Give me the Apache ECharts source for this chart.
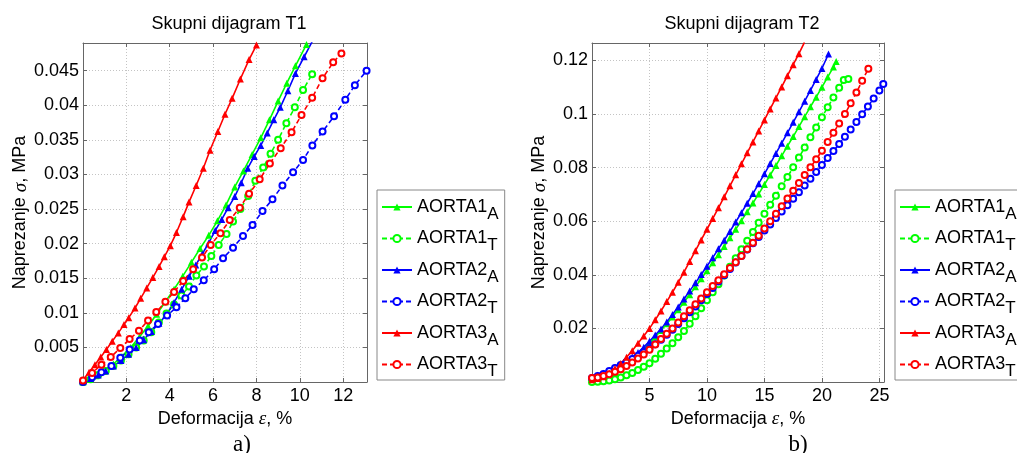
<!DOCTYPE html>
<html><head><meta charset="utf-8">
<script src="https://cdn.jsdelivr.net/npm/echarts@6/dist/echarts.min.js"></script>
<style>html,body{margin:0;padding:0;background:#fff}#c{width:1017px;height:453px}</style>
</head><body><div id="c"></div><script>
// ---------- DATA ----------
const seriesNames = ['AORTA1_A','AORTA1_T','AORTA2_A','AORTA2_T','AORTA3_A','AORTA3_T'];
const titles = ['Skupni dijagram T1','Skupni dijagram T2'];
const panelLabels = ['a)','b)'];
const xTicks1 = [2,4,6,8,10,12];
const yTicks1 = [0.005,0.01,0.015,0.02,0.025,0.03,0.035,0.04,0.045];
const xTicks2 = [5,10,15,20,25];
const yTicks2 = [0.02,0.04,0.06,0.08,0.1,0.12];

// T1 (x = deformation %, y = stress MPa)
const T1_AORTA1_A = [[0,0],[0.3,0.0004],[0.6,0.0009],[1.0,0.0017],[1.4,0.0026],[1.8,0.0037],[2.2,0.005],[2.6,0.0065],[3.0,0.0081],[3.4,0.0098],[3.8,0.0116],[4.2,0.0134],[4.6,0.0153],[5.0,0.0173],[5.4,0.0193],[5.8,0.0212],[6.2,0.0233],[6.6,0.0256],[7.0,0.0282],[7.4,0.0305],[7.8,0.0329],[8.2,0.0353],[8.6,0.0379],[9.0,0.0406],[9.4,0.0432],[9.8,0.0457],[10.31,0.0488]];
const T1_AORTA1_T = [[0,0],[0.35,0.0004],[0.7,0.001],[1.05,0.0016],[1.4,0.0023],[1.75,0.0031],[2.1,0.004],[2.45,0.005],[2.8,0.006],[3.15,0.0072],[3.5,0.0086],[3.85,0.0099],[4.2,0.0112],[4.54,0.0125],[4.89,0.0138],[5.23,0.0154],[5.58,0.0167],[5.92,0.0182],[6.26,0.0198],[6.62,0.0214],[6.92,0.0232],[7.26,0.025],[7.62,0.0269],[7.95,0.0291],[8.31,0.031],[8.65,0.033],[9.0,0.035],[9.38,0.0374],[9.77,0.0397],[10.15,0.0422],[10.57,0.0445]];
const T1_AORTA2_A = [[0,0.0001],[0.35,0.0005],[0.7,0.001],[1.05,0.0016],[1.4,0.0023],[1.75,0.0031],[2.1,0.004],[2.45,0.005],[2.8,0.0061],[3.15,0.0073],[3.5,0.0085],[3.85,0.0097],[4.2,0.0115],[4.55,0.0134],[4.9,0.0153],[5.2,0.0169],[5.5,0.0185],[5.8,0.0201],[6.1,0.0219],[6.4,0.0235],[6.7,0.0252],[7.0,0.0268],[7.3,0.0288],[7.6,0.0309],[7.9,0.0326],[8.2,0.0342],[8.5,0.036],[8.8,0.0379],[9.1,0.0397],[9.45,0.0421],[9.8,0.0446],[10.2,0.047],[10.57,0.0492]];
const T1_AORTA2_T = [[0,0],[0.42,0.0007],[0.85,0.0014],[1.31,0.0023],[1.72,0.0035],[2.15,0.0047],[2.62,0.006],[3.03,0.0072],[3.46,0.0084],[3.88,0.0096],[4.31,0.0108],[4.72,0.0121],[5.11,0.0134],[5.57,0.0147],[6.05,0.0163],[6.46,0.0179],[6.92,0.0194],[7.38,0.0211],[7.82,0.0227],[8.28,0.0247],[8.74,0.0264],[9.2,0.0284],[9.69,0.0303],[10.15,0.0321],[10.58,0.0342],[11.05,0.0362],[11.58,0.0384],[12.1,0.0408],[12.54,0.0429],[13.08,0.045]];
const T1_AORTA3_A = [[0,0.0003],[0.28,0.0014],[0.55,0.0025],[0.82,0.0036],[1.08,0.0047],[1.35,0.0059],[1.63,0.0071],[1.89,0.0083],[2.11,0.0093],[2.4,0.0107],[2.66,0.0121],[2.94,0.0136],[3.22,0.0151],[3.51,0.0167],[3.75,0.0181],[4.03,0.0197],[4.31,0.0216],[4.62,0.0239],[4.89,0.026],[5.22,0.0284],[5.55,0.0309],[5.86,0.0335],[6.22,0.0362],[6.55,0.0387],[6.88,0.041],[7.26,0.0438],[7.66,0.0466],[8.0,0.0487]];
const T1_AORTA3_T = [[0,0.0002],[0.42,0.0013],[0.85,0.0025],[1.28,0.0036],[1.72,0.0049],[2.15,0.0062],[2.58,0.0074],[3.0,0.0089],[3.38,0.0101],[3.8,0.0116],[4.2,0.013],[4.62,0.0146],[5.08,0.0163],[5.49,0.018],[5.89,0.0198],[6.34,0.0215],[6.77,0.0234],[7.23,0.0252],[7.66,0.0272],[8.15,0.0293],[8.62,0.0316],[9.12,0.0338],[9.62,0.0361],[10.08,0.0386],[10.57,0.0411],[11.05,0.0439],[11.54,0.0462],[11.92,0.0475]];

// T2
const T2_AORTA1_A = [[0,0.0002],[0.5,0.0006],[1,0.0012],[1.5,0.0022],[2,0.0035],[2.5,0.0049],[3,0.0065],[3.5,0.0083],[4,0.0102],[4.5,0.0123],[5,0.0145],[5.5,0.0168],[6,0.0192],[6.5,0.0217],[7,0.0243],[7.5,0.027],[8,0.0298],[8.5,0.0326],[9,0.0355],[9.5,0.0385],[10,0.0415],[10.5,0.0445],[11,0.0475],[11.5,0.0506],[12,0.0538],[12.5,0.057],[13,0.0602],[13.5,0.0635],[14,0.0668],[14.5,0.0702],[15,0.0737],[15.5,0.0772],[16,0.0808],[16.5,0.0844],[17,0.088],[17.5,0.0916],[18,0.0953],[18.5,0.099],[19,0.1027],[19.5,0.1063],[20,0.11],[20.5,0.1138],[21,0.1175],[21.24,0.1196]];
const T2_AORTA1_T = [[0,0],[0.5,0.0001],[1,0.0003],[1.5,0.0006],[2,0.001],[2.5,0.0017],[3,0.0025],[3.5,0.0034],[4,0.0045],[4.5,0.0057],[5,0.007],[5.5,0.0087],[6,0.0105],[6.5,0.0125],[7,0.0145],[7.5,0.0167],[8,0.019],[8.5,0.0217],[9,0.0245],[9.5,0.0275],[10,0.0305],[10.5,0.0335],[11,0.0365],[11.5,0.0397],[12,0.043],[12.5,0.0462],[13,0.0495],[13.5,0.0527],[14,0.056],[14.5,0.0594],[15,0.0628],[15.5,0.0661],[16,0.0695],[16.5,0.073],[17,0.0765],[17.5,0.0801],[18,0.0838],[18.5,0.0875],[19,0.0913],[19.5,0.095],[20,0.0988],[20.5,0.1025],[21,0.1062],[21.5,0.1098],[21.9,0.1127],[22.3,0.1131]];
const T2_AORTA2_A = [[0,0.0017],[0.5,0.0025],[1,0.0033],[1.5,0.0042],[2,0.0052],[2.5,0.0064],[3,0.0078],[3.5,0.0093],[4,0.011],[4.5,0.013],[5,0.0152],[5.5,0.0175],[6,0.0198],[6.5,0.0224],[7,0.0252],[7.5,0.028],[8,0.031],[8.5,0.034],[9,0.037],[9.5,0.0401],[10,0.0432],[10.5,0.0464],[11,0.0497],[11.5,0.0529],[12,0.0562],[12.5,0.0597],[13,0.0632],[13.5,0.0667],[14,0.0703],[14.5,0.074],[15,0.0777],[15.5,0.0815],[16,0.0853],[16.5,0.0891],[17,0.093],[17.5,0.0969],[18,0.1008],[18.5,0.1048],[19,0.1088],[19.5,0.1129],[20,0.117],[20.57,0.1224]];
const T2_AORTA2_T = [[0,0.0015],[0.5,0.0022],[1,0.003],[1.5,0.0041],[2,0.0052],[2.5,0.0063],[3,0.0075],[3.5,0.0086],[4,0.0098],[4.5,0.0111],[5,0.0125],[5.5,0.0141],[6,0.0158],[6.5,0.0176],[7,0.0195],[7.5,0.0216],[8,0.0238],[8.5,0.026],[9,0.0282],[9.5,0.0305],[10,0.0328],[10.5,0.0351],[11,0.0375],[11.5,0.0398],[12,0.0422],[12.5,0.0446],[13,0.047],[13.5,0.0494],[14,0.0518],[14.5,0.0541],[15,0.0565],[15.5,0.0588],[16,0.0612],[16.5,0.0636],[17,0.066],[17.5,0.0684],[18,0.0708],[18.5,0.0733],[19,0.0758],[19.5,0.0784],[20,0.081],[20.5,0.0836],[21,0.0862],[21.5,0.0888],[22,0.0915],[22.5,0.0942],[23,0.097],[23.5,0.0999],[24,0.1028],[24.5,0.1058],[25,0.1088],[25.34,0.1112]];
const T2_AORTA3_A = [[0,0.0008],[0.5,0.0013],[1,0.002],[1.5,0.0033],[2,0.005],[2.5,0.0069],[3,0.0092],[3.5,0.0117],[4,0.0145],[4.5,0.0172],[5,0.02],[5.5,0.0232],[6,0.0265],[6.5,0.03],[7,0.0335],[7.5,0.0372],[8,0.041],[8.5,0.045],[9,0.049],[9.5,0.053],[10,0.057],[10.5,0.061],[11,0.065],[11.5,0.0691],[12,0.0732],[12.5,0.0773],[13,0.0814],[13.5,0.0855],[14,0.0896],[14.5,0.0937],[15,0.0978],[15.5,0.1019],[16,0.106],[16.5,0.1101],[17,0.1143],[17.5,0.1184],[18,0.1225],[18.48,0.1267]];
const T2_AORTA3_T = [[0,0.0015],[0.5,0.0017],[1,0.0022],[1.5,0.0029],[2,0.0038],[2.5,0.0048],[3,0.006],[3.5,0.0073],[4,0.0088],[4.5,0.0103],[5,0.012],[5.5,0.014],[6,0.016],[6.5,0.018],[7,0.02],[7.5,0.0222],[8,0.0245],[8.5,0.0268],[9,0.029],[9.5,0.0312],[10,0.0335],[10.5,0.0358],[11,0.038],[11.5,0.0402],[12,0.0425],[12.5,0.0447],[13,0.047],[13.5,0.0495],[14,0.052],[14.5,0.0546],[15,0.0573],[15.5,0.06],[16,0.0628],[16.5,0.0656],[17,0.0685],[17.5,0.0714],[18,0.0743],[18.5,0.0772],[19,0.0801],[19.5,0.0831],[20,0.0863],[20.5,0.0896],[21,0.093],[21.5,0.0965],[22,0.1],[22.5,0.104],[23,0.108],[23.5,0.1124],[24.04,0.1169]];

const T1_DATA = [T1_AORTA1_A,T1_AORTA1_T,T1_AORTA2_A,T1_AORTA2_T,T1_AORTA3_A,T1_AORTA3_T];
const T2_DATA = [T2_AORTA1_A,T2_AORTA1_T,T2_AORTA2_A,T2_AORTA2_T,T2_AORTA3_A,T2_AORTA3_T];

// ---------- STYLE ----------
const FONT = '"Liberation Sans", Arial, sans-serif';
const SERIF = '"Liberation Serif", "Times New Roman", serif';
const COLORS = ['#00ff00','#00ff00','#0000ff','#0000ff','#ff0000','#ff0000'];
const isTest = n => n.endsWith('_T');

const chart = echarts.init(document.getElementById('c'), null, {renderer:'canvas'});

function fmt(ticks){
  return function(v){
    for (const t of ticks){ if (Math.abs(v - t) < 1e-9) return String(t); }
    return '';
  };
}
const AXCOL = '#666';
function mainX(grid, max, interval, ticks){
  return {gridIndex:grid, type:'value', min:0, max:max, interval:interval, position:'bottom',
    axisLine:{show:true, onZero:false, lineStyle:{color:AXCOL, width:1}},
    axisTick:{show:true, inside:true, length:4, lineStyle:{color:AXCOL}},
    axisLabel:{formatter:fmt(ticks), color:'#000', fontSize:18, fontFamily:FONT, margin:5, showMaxLabel:true},
    splitLine:{show:true, lineStyle:{color:'#c4c4c4', type:[1,2], width:1}},
    name:'Deformacija {i|ε}, %', nameLocation:'middle', nameGap:23,
    nameTextStyle:{fontSize:18, fontFamily:FONT, color:'#000', rich:{i:{fontFamily:SERIF, fontStyle:'italic', fontSize:19, color:'#000'}}}
  };
}
function mirrorX(grid, max, interval){
  return {gridIndex:grid, type:'value', min:0, max:max, interval:interval, position:'top',
    axisLine:{show:true, onZero:false, lineStyle:{color:AXCOL, width:1}},
    axisTick:{show:true, inside:true, length:4, lineStyle:{color:AXCOL}},
    axisLabel:{show:false}, splitLine:{show:false}};
}
function mainY(grid, max, interval, ticks, gap){
  return {gridIndex:grid, type:'value', min:0, max:max, interval:interval, position:'left',
    axisLine:{show:true, onZero:false, lineStyle:{color:AXCOL, width:1}},
    axisTick:{show:true, inside:true, length:4, lineStyle:{color:AXCOL}},
    axisLabel:{formatter:fmt(ticks), color:'#000', fontSize:18, fontFamily:FONT, margin:4},
    splitLine:{show:true, lineStyle:{color:'#c4c4c4', type:[1,2], width:1}},
    name:'Naprezanje {i|σ}, MPa', nameLocation:'middle', nameGap:gap,
    nameTextStyle:{fontSize:18, fontFamily:FONT, color:'#000', rich:{i:{fontFamily:SERIF, fontStyle:'italic', fontSize:19, color:'#000'}}}
  };
}
function mirrorY(grid, max, interval){
  return {gridIndex:grid, type:'value', min:0, max:max, interval:interval, position:'right',
    axisLine:{show:true, onZero:false, lineStyle:{color:AXCOL, width:1}},
    axisTick:{show:true, inside:true, length:4, lineStyle:{color:AXCOL}},
    axisLabel:{show:false}, splitLine:{show:false}};
}

function makeSeries(dataSets, xIdx, yIdx){
  return seriesNames.map((n,i)=>({
    name:n, type:'line', xAxisIndex:xIdx, yAxisIndex:yIdx, data:dataSets[i],
    symbol: isTest(n) ? 'emptyCircle' : 'triangle',
    symbolSize: isTest(n) ? 6 : 7,
    showAllSymbol:true, smooth:false, animation:false,
    lineStyle:{color:COLORS[i], width:1.6, type: isTest(n) ? [5,3] : 'solid'},
    itemStyle:{color:COLORS[i], borderColor:COLORS[i], borderWidth: isTest(n) ? 1.4 : 0},
    emphasis:{disabled:true}
  }));
}

function legendAt(left){
  return {
    orient:'vertical', left:left, top:190, data:seriesNames, selectedMode:false,
    formatter: n => { const p = n.split('_'); return p[0] + '{sub|' + p[1] + '}'; },
    itemWidth:30, itemHeight:9, itemGap:7,
    borderColor:'#888', borderWidth:1, borderRadius:0, backgroundColor:'#fff',
    padding:[8,6,0,4],
    textStyle:{fontSize:18, fontFamily:FONT, color:'#000', padding:[0,0,0,0],
      rich:{sub:{fontSize:17, fontFamily:FONT, color:'#000', padding:[14,0,0,0]}}}
  };
}

const option = {
  backgroundColor:'#fff',
  animation:false,
  title:[
    {text:titles[0], left:224, top:10, textAlign:'center', textStyle:{fontSize:18, fontWeight:'normal', fontFamily:FONT, color:'#000'}},
    {text:titles[1], left:737, top:10, textAlign:'center', textStyle:{fontSize:18, fontWeight:'normal', fontFamily:FONT, color:'#000'}},
    {text:panelLabels[0], left:237, top:428, textAlign:'center', textStyle:{fontSize:23, fontWeight:'normal', fontFamily:SERIF, color:'#000'}},
    {text:panelLabels[1], left:793, top:428, textAlign:'center', textStyle:{fontSize:23, fontWeight:'normal', fontFamily:SERIF, color:'#000'}}
  ],
  grid:[
    {left:83, top:43, width:284, height:339, containLabel:false},
    {left:592, top:43, width:292, height:339, containLabel:false}
  ],
  xAxis:[ mainX(0, 13.1, 2, xTicks1), mirrorX(0, 13.1, 2), mainX(1, 25.4, 5, xTicks2), mirrorX(1, 25.4, 5) ],
  yAxis:[ mainY(0, 0.049, 0.005, yTicks1, 53), mirrorY(0, 0.049, 0.005), mainY(1, 0.1265, 0.02, yTicks2, 43), mirrorY(1, 0.1265, 0.02) ],
  legend:[ legendAt(377), legendAt(895) ],
  series:[ ...makeSeries(T1_DATA, 0, 0), ...makeSeries(T2_DATA, 2, 2) ]
};
chart.setOption(option);
</script></body></html>
